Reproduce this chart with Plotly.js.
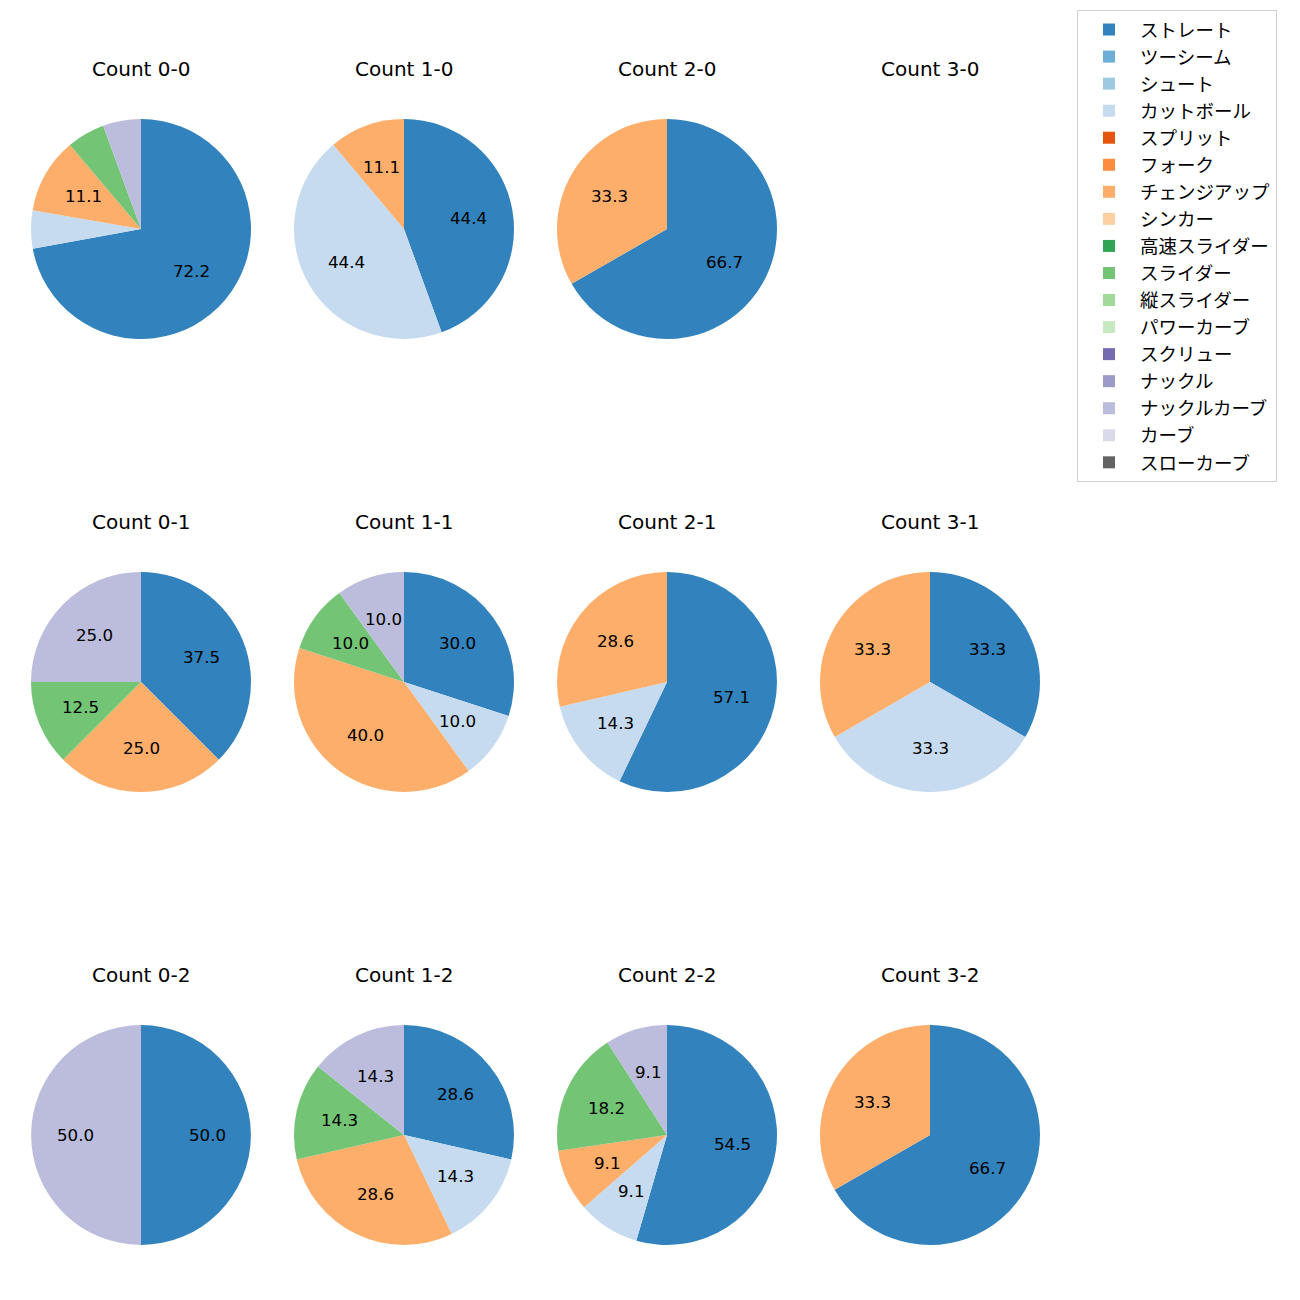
<!DOCTYPE html>
<html>
<head>
<meta charset="utf-8">
<script src="https://cdn.plot.ly/plotly-3.0.1.min.js"></script>
<style>html,body{margin:0;padding:0;background:#fff;}</style>
</head>
<body>
<div id="chart" style="width:1300px;height:1300px;"></div>
<script>
const pitchTypes = ["ストレート","ツーシーム","シュート","カットボール","スプリット","フォーク","チェンジアップ","シンカー","高速スライダー","スライダー","縦スライダー","パワーカーブ","スクリュー","ナックル","ナックルカーブ","カーブ","スローカーブ"];
const pitchColors = ["#3182bd","#6baed6","#9ecae1","#c6dbef","#e6550d","#fd8d3c","#fdae6b","#fdd0a2","#31a354","#74c476","#a1d99b","#c7e9c0","#756bb1","#9e9ac8","#bcbddc","#dadaeb","#636363"];

const countTitles = ["Count 0-0","Count 1-0","Count 2-0","Count 3-0",
                     "Count 0-1","Count 1-1","Count 2-1","Count 3-1",
                     "Count 0-2","Count 1-2","Count 2-2","Count 3-2"];
// percentages per pitch type (order of pitchTypes)
const count00 = [72.2,0,0,5.6,0,0,11.1,0,0,5.6,0,0,0,0,5.6,0,0];
const count10 = [44.4,0,0,44.4,0,0,11.1,0,0,0,0,0,0,0,0,0,0];
const count20 = [66.7,0,0,0,0,0,33.3,0,0,0,0,0,0,0,0,0,0];
const count30 = [0,0,0,0,0,0,0,0,0,0,0,0,0,0,0,0,0];
const count01 = [37.5,0,0,0,0,0,25.0,0,0,12.5,0,0,0,0,25.0,0,0];
const count11 = [30.0,0,0,10.0,0,0,40.0,0,0,10.0,0,0,0,0,10.0,0,0];
const count21 = [57.1,0,0,14.3,0,0,28.6,0,0,0,0,0,0,0,0,0,0];
const count31 = [33.3,0,0,33.3,0,0,33.3,0,0,0,0,0,0,0,0,0,0];
const count02 = [50.0,0,0,0,0,0,0,0,0,0,0,0,0,0,50.0,0,0];
const count12 = [28.6,0,0,14.3,0,0,28.6,0,0,14.3,0,0,0,0,14.3,0,0];
const count22 = [54.5,0,0,9.1,0,0,9.1,0,0,18.2,0,0,0,0,9.1,0,0];
const count32 = [66.7,0,0,0,0,0,33.3,0,0,0,0,0,0,0,0,0,0];
const countValues = [count00,count10,count20,count30,count01,count11,count21,count31,count02,count12,count22,count32];

const W = 1300, H = 1300;
const colCenters = [141, 404, 667, 930];
const rowCenters = [229, 682, 1135];
const R = 110;
const FONT = '"DejaVu Sans", "Noto Sans CJK JP", sans-serif';

const data = [];
const annotations = [];
countValues.forEach((vals, k) => {
  const cx = colCenters[k % 4], cy = rowCenters[Math.floor(k / 4)];
  const total = vals.reduce((a, b) => a + b, 0);
  data.push({
    type: 'pie',
    labels: pitchTypes,
    values: vals,
    marker: {colors: pitchColors, line: {width: 0}},
    sort: false,
    direction: 'clockwise',
    rotation: 0,
    showlegend: false,
    textinfo: 'none',
    hoverinfo: 'label+percent',
    domain: {x: [(cx - R) / W, (cx + R) / W], y: [1 - (cy + R) / H, 1 - (cy - R) / H]}
  });
  annotations.push({
    text: countTitles[k], showarrow: false, xref: 'paper', yref: 'paper',
    x: cx / W, y: 1 - (cy - 160) / H, xanchor: 'center', yanchor: 'middle',
    font: {family: FONT, size: 20, color: '#000'}
  });
  // percentage labels at 0.6 radius along each wedge bisector (matplotlib autopct style)
  if (total > 0) {
    let cum = 0;
    vals.forEach(v => {
      if (v > 0) {
        const mid = (cum + v / 2) / total * 2 * Math.PI;
        if (v >= 8) {
          annotations.push({
            text: v.toFixed(1), showarrow: false, xref: 'paper', yref: 'paper',
            x: (cx + 0.6 * R * Math.sin(mid)) / W,
            y: 1 - (cy - 0.6 * R * Math.cos(mid)) / H,
            xanchor: 'center', yanchor: 'middle',
            font: {family: FONT, size: 16.7, color: '#000'}
          });
        }
        cum += v;
      }
    });
  }
});
// legend entries: one tiny pie per pitch type, hidden beneath the opaque legend box
pitchTypes.forEach((p, i) => {
  data.push({
    type: 'pie', labels: [p], values: [1], marker: {colors: [pitchColors[i]], line: {width: 0}},
    legendgroup: 'g' + i, showlegend: true, textinfo: 'none', hoverinfo: 'skip',
    domain: {x: [1180 / W, 1181 / W], y: [1 - 251 / H, 1 - 250 / H]}
  });
});

const layout = {
  width: W, height: H,
  margin: {l: 0, r: 0, t: 0, b: 0},
  paper_bgcolor: '#fff',
  font: {family: FONT, color: '#000'},
  annotations: annotations,
  showlegend: true,
  legend: {
    x: 1077 / W, y: 1 - 10 / H, xanchor: 'left', yanchor: 'top',
    bgcolor: '#fff', bordercolor: '#d0d0d0', borderwidth: 1,
    font: {family: FONT, size: 18.5, color: '#000'},
    itemwidth: 52,
    tracegroupgap: 6.7, traceorder: 'normal'
  }
};
Plotly.newPlot('chart', data, layout, {displayModeBar: false});
</script>
</body>
</html>
